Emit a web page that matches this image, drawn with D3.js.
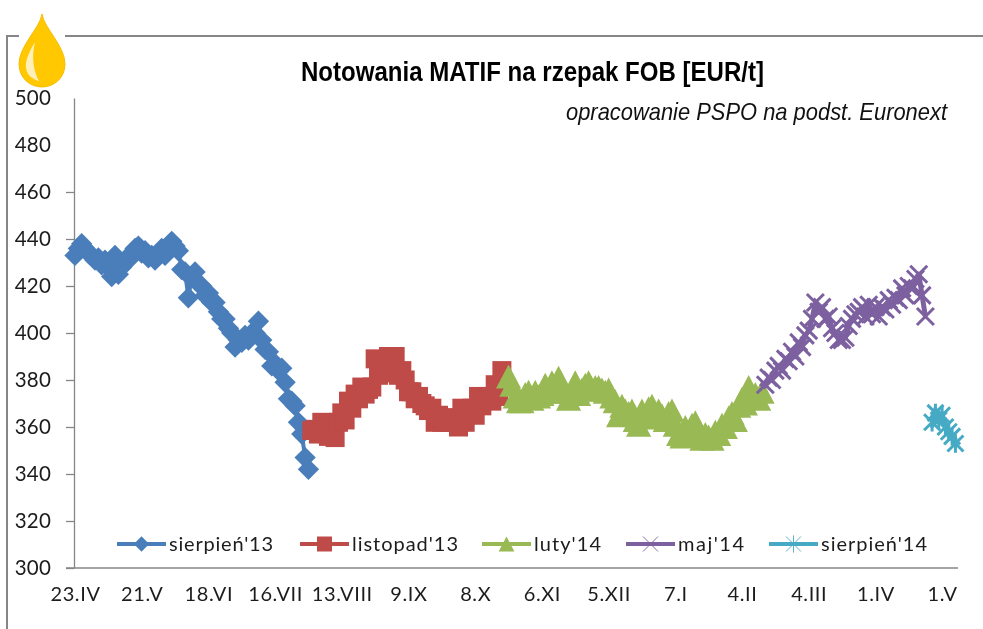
<!DOCTYPE html>
<html><head><meta charset="utf-8">
<script src="https://cdn.jsdelivr.net/npm/d3@7/dist/d3.min.js"></script>
<style>html,body{margin:0;padding:0;background:#fff}svg{display:block;filter:blur(0.4px)}</style>
</head><body><svg id="c" width="983" height="629"></svg>
<script>
const tickLabels = ["23.IV","21.V","18.VI","16.VII","13.VIII","9.IX","8.X","6.XI","5.XII","7.I","4.II","4.III","1.IV","1.V"];
const yTicks = [300,320,340,360,380,400,420,440,460,480,500];
const seriesNames = ["sierpień'13","listopad'13","luty'14","maj'14","sierpień'14"];
const seriesStart = [0,71,130,207,257];
const sierpien13 = [433,436,438,436,434,433,431,432,429,431,428,424,433,425,428,430,431,434,436,437,434,435,432,433,431,433,436,433,436,439,437,435,427,426,415,424,426,421,420,416,417,413,413,409,406,406,402,400,394,397,396,399,397,400,400,405,397,393,392,386,387,384,385,379,372,371,369,362,357,347,342];
const listopad13 = [358.5,359,357,362,360,356,358,355.5,362,366,363,371,368,374,372,377,374,376,377,389,382,383,386,390,384,390,382,384,380,375,375,372,373,370,369,367,368,362,365,362,363,362,362,364,360,368,362,366,368,365,373,369,372,373,371,378,373,384];
const luty14 = [381.5,378,373,371,371,374,375,372,375,373,374,378,375,379,376,381,377,375,372,375,379,374,376,378,379,376,377,377,376,375,376,373,371,365,369,367,366,367,363,361,367,364,368,369,365,367,365,363,366,367,361,357,356,360,357,361,362,358,355,357,356,355,358,357,361,360,364,366,363,369,372,370,377,373,374,372,375];
const maj14 = [378,381,380,384,386,384,389,388,392,390,396,394,399,401,406,413,409,411,406,407,402,400,397,397,398,403,406,408,409,411,407,412,408,411,407,411,410,414,412,415,414,419,416,420,419,423,425,416,407];
const sierpien14 = [362,366,363,365,360,358,356,353];
const seriesValues = [sierpien13,listopad13,luty14,maj14,sierpien14];
const colors = ["#4A7EBB","#BE4B48","#98B954","#7D60A0","#46AAC5"];

const svg = d3.select("#c");
const y = d3.scaleLinear().domain([300,500]).range([568,98]);
const x = d3.scaleLinear().domain([0,20]).range([75,141.7]);
const grey = "#868686", ink = "#1c1c1c";
const labelFont = "Lato, sans-serif";

const triangle = {draw(c,s){const w=s*1.05,h=s;c.moveTo(0,-h/2);c.lineTo(w/2,h/2);c.lineTo(-w/2,h/2);c.closePath();}};
const times = {draw(c,s){const r=s/2;c.moveTo(-r,-r);c.lineTo(r,r);c.moveTo(r,-r);c.lineTo(-r,r);}};
const star = {draw(c,s){const r=s/2;c.moveTo(-r,-r);c.lineTo(r,r);c.moveTo(r,-r);c.lineTo(-r,r);c.moveTo(0,-r*1.15);c.lineTo(0,r*1.15);}};
const plotSym = [d3.symbol(d3.symbolDiamond2,290)(), d3.symbol(d3.symbolSquare,361)(), d3.symbol(triangle,24)(), d3.symbol(times,17)(), d3.symbol(star,16)()];
const legSym  = [d3.symbol(d3.symbolDiamond2,150)(), d3.symbol(d3.symbolSquare,225)(), d3.symbol(triangle,15)(), d3.symbol(times,15)(), d3.symbol(star,15)()];
const isLine = [false,false,false,true,true];

svg.append("path").attr("d","M7 629V36H983").attr("fill","none").attr("stroke",grey).attr("stroke-width",2);

const gy = svg.append("g").attr("transform","translate(74,0)")
  .call(d3.axisLeft(y).tickValues(yTicks).tickSize(0).tickPadding(23).tickFormat(d3.format("d")));
gy.select(".domain").attr("stroke",grey).attr("stroke-width",1.3);
gy.selectAll("text").attr("font-family",labelFont).attr("font-size",20.5).attr("letter-spacing",0.2).attr("fill",ink);
gy.selectAll(".tick").filter(d=>d<=460).append("line").attr("x1",-8).attr("x2",0).attr("stroke",grey).attr("stroke-width",1.3);

const gx = svg.append("g").attr("transform","translate(0,568)")
  .call(d3.axisBottom(x).tickValues(tickLabels.map((_,i)=>i*20)).tickSize(0).tickPadding(19).tickFormat((_,i)=>tickLabels[i]));
gx.select(".domain").attr("d","M66 0H958").attr("stroke",grey).attr("stroke-width",1.3);
gx.selectAll("text").attr("font-family",labelFont).attr("font-size",20).attr("letter-spacing",0.6).attr("fill",ink);

seriesValues.forEach((vals,k)=>{
  const pts = vals.map((v,i)=>[x(seriesStart[k]+i),y(v)]);
  const g = svg.append("g");
  g.append("path").attr("d",d3.line()(pts)).attr("fill","none").attr("stroke",colors[k]).attr("stroke-width",isLine[k]?5:4).attr("stroke-linejoin","round");
  g.selectAll("path.m").data(pts).join("path").attr("class","m")
    .attr("transform",d=>`translate(${d[0]},${d[1]})`).attr("d",plotSym[k])
    .attr("fill",isLine[k]?"none":colors[k])
    .attr("stroke",isLine[k]?colors[k]:"none").attr("stroke-width",isLine[k]?3:0);
});

const legendLine = d3.scaleOrdinal(seriesNames,[117,300,482,626,769]);
const legendWidth = d3.scaleOrdinal(seriesNames,[104,106,67,66,106]);
const lg = svg.append("g").attr("transform","translate(0,544)");
seriesNames.forEach((n,k)=>{
  const x0 = legendLine(n);
  lg.append("line").attr("x1",x0).attr("x2",x0+49).attr("stroke",colors[k]).attr("stroke-width",4);
  lg.append("path").attr("transform",`translate(${x0+24.5},0)`).attr("d",legSym[k])
    .attr("fill",isLine[k]?"none":colors[k]).attr("stroke",isLine[k]?colors[k]:"none").attr("stroke-width",isLine[k]?0.9:0);
  lg.append("text").attr("x",x0+52).attr("y",7).attr("font-family",labelFont).attr("font-size",20)
    .attr("textLength",legendWidth(n)).attr("fill",ink).text(n);
});

svg.append("text").attr("x",301).attr("y",81).attr("font-family","'Liberation Sans',Arial,sans-serif").attr("font-weight","bold").attr("font-size",27)
  .attr("textLength",463).attr("lengthAdjust","spacingAndGlyphs").attr("fill","#000").text("Notowania MATIF na rzepak FOB [EUR/t]");
svg.append("text").attr("x",566).attr("y",120).attr("font-family","'Liberation Sans',Arial,sans-serif").attr("font-style","italic").attr("font-size",23.4)
  .attr("textLength",381).attr("lengthAdjust","spacingAndGlyphs").attr("fill","#111").text("opracowanie PSPO na podst. Euronext");

svg.append("rect").attr("x",19).attr("y",33).attr("width",46).attr("height",6).attr("fill","#fff");
svg.append("path").attr("d","M42 14C44 28 65 46 65 64C65 78 54 87 42 87C30 87 19 78 19 64C19 46 40 28 42 14Z").attr("fill","#FFC800").attr("stroke","#F7BC00");
svg.append("path").attr("d","M35 42C29 52 25 61 26 68C27 75 32 79 39 81C34 72 31 58 35 42Z").attr("fill","#FFEFB8");
</script></body></html>
